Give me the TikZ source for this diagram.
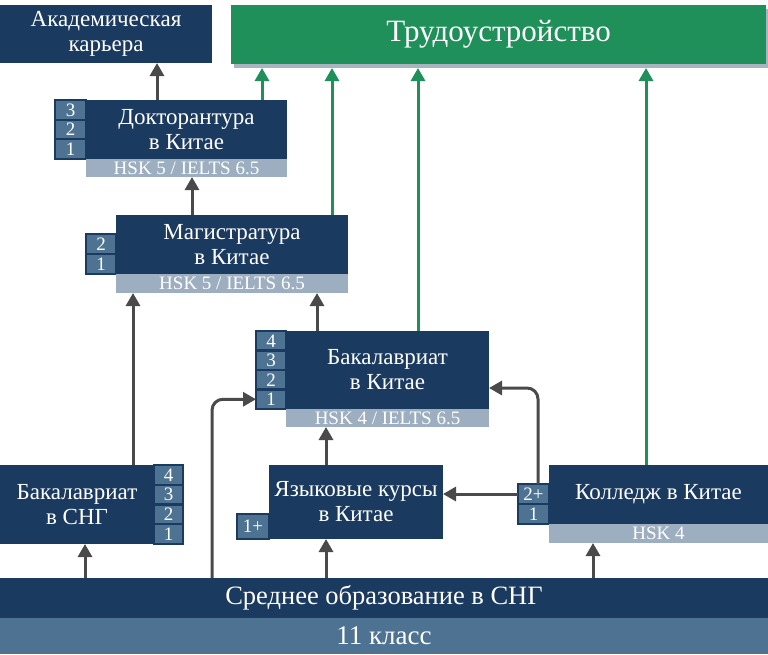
\documentclass[tikz,border=0pt]{standalone}
\usepackage{fontspec}
\setmainfont{Liberation Serif}
\usetikzlibrary{arrows.meta}
\definecolor{dblue}{HTML}{1B3A60}
\definecolor{cellc}{HTML}{4E7291}
\definecolor{barc}{HTML}{9CAEC0}
\definecolor{botc}{HTML}{4E7291}
\definecolor{gcol}{HTML}{20905A}
\definecolor{agray}{HTML}{4A4A4A}
\definecolor{shadowc}{HTML}{A8B4C0}
\tikzset{
  box/.style={rectangle, fill=dblue, text=white, inner sep=0pt, outer sep=0pt, anchor=north west, align=center, font=\rmfamily\fontsize{23}{25}\selectfont},
  cell/.style={rectangle, fill=cellc, draw=dblue, line width=2.2pt, text=white, inner sep=0pt, outer sep=0pt, anchor=north west, font=\rmfamily\fontsize{19}{19}\selectfont},
  hsk/.style={rectangle, fill=barc, text=white, inner sep=0pt, outer sep=0pt, anchor=north west, font=\rmfamily\fontsize{19}{19}\selectfont},
  arr/.style={line width=3pt, draw=agray, -{Triangle[length=13pt,width=14pt]}},
  garr/.style={line width=3pt, draw=gcol, -{Triangle[length=13pt,width=14pt]}}
}
\begin{document}
\begin{tikzpicture}[x=1pt,y=-1pt]
\useasboundingbox (0,0) rectangle (768,654);
% top boxes
\node[box, minimum width=212pt, minimum height=58pt] (acad) at (0,5) {Академическая\\карьера};
\node[rectangle, fill=shadowc, inner sep=0pt, outer sep=0pt, anchor=north west, minimum width=534pt, minimum height=59pt] (shadow) at (234,9) {};
\node[box, fill=gcol, minimum width=535pt, minimum height=59pt, font=\rmfamily\fontsize{31}{33}\selectfont] (emp) at (231,5) {Трудоустройство};
% doctorate
\node[box, minimum width=201pt, minimum height=59pt] (doc) at (86,100) {Докторантура\\в Китае};
\node[cell, minimum width=31pt, minimum height=19.67pt] (doc3) at (55,100) {3};
\node[cell, minimum width=31pt, minimum height=19.67pt] (doc2) at (55,119.67) {2};
\node[cell, minimum width=31pt, minimum height=19.67pt] (doc1) at (55,139.33) {1};
\node[hsk, minimum width=201pt, minimum height=18pt] (dochsk) at (86,159) {HSK 5 / IELTS 6.5};
% master
\node[box, minimum width=232pt, minimum height=59pt] (mag) at (116,215) {Магистратура\\в Китае};
\node[cell, minimum width=30pt, minimum height=20pt] (mag2) at (86,234) {2};
\node[cell, minimum width=30pt, minimum height=20pt] (mag1) at (86,254) {1};
\node[hsk, minimum width=232pt, minimum height=19pt] (maghsk) at (116,274) {HSK 5 / IELTS 6.5};
% bachelor china
\node[box, minimum width=203pt, minimum height=78pt] (bach) at (286,331) {Бакалавриат\\в Китае};
\node[cell, minimum width=30pt, minimum height=19.5pt] (bc4) at (256,331) {4};
\node[cell, minimum width=30pt, minimum height=19.5pt] (bc3) at (256,350.5) {3};
\node[cell, minimum width=30pt, minimum height=19.5pt] (bc2) at (256,370) {2};
\node[cell, minimum width=30pt, minimum height=19.5pt] (bc1) at (256,389.5) {1};
\node[hsk, minimum width=203pt, minimum height=18pt] (bachhsk) at (286,409) {HSK 4 / IELTS 6.5};
% bachelor CIS
\node[box, minimum width=154pt, minimum height=79pt] (cis) at (0,465) {Бакалавриат\\в СНГ};
\node[cell, minimum width=29pt, minimum height=19.75pt] (cis4) at (154,465) {4};
\node[cell, minimum width=29pt, minimum height=19.75pt] (cis3) at (154,484.75) {3};
\node[cell, minimum width=29pt, minimum height=19.75pt] (cis2) at (154,504.5) {2};
\node[cell, minimum width=29pt, minimum height=19.75pt] (cis1) at (154,524.25) {1};
% language courses
\node[box, minimum width=174pt, minimum height=74pt] (lang) at (269,465) {Языковые курсы\\в Китае};
\node[cell, minimum width=32pt, minimum height=25pt] (lang1) at (237,514) {1+};
% college
\node[box, minimum width=219pt, minimum height=59pt] (col) at (549,465) {Колледж в Китае};
\node[cell, minimum width=31pt, minimum height=20pt] (cb2) at (518,484) {2+};
\node[cell, minimum width=31pt, minimum height=20pt] (cb1) at (518,504) {1};
\node[hsk, minimum width=219pt, minimum height=19pt] (colhsk) at (549,524) {HSK 4};
% bottom
\node[box, minimum width=768pt, minimum height=40pt, font=\rmfamily\fontsize{26.5}{28}\selectfont] (sec) at (0,578) {Среднее образование в СНГ};
\node[box, fill=botc, minimum width=768pt, minimum height=36pt, font=\rmfamily\fontsize{27}{28}\selectfont] (eleven) at (0,618) {11 класс};
% dark arrows
\draw[arr] ([xshift=71pt]doc.north west) -- ([xshift=71pt]doc.north west |- acad.south);
\draw[arr] ([xshift=76pt]mag.north west) -- ([xshift=76pt]mag.north west |- dochsk.south);
\draw[arr] ([xshift=133pt]cis.north west) -- ([xshift=133pt]cis.north west |- maghsk.south);
\draw[arr] ([xshift=31pt]bach.north west) -- ([xshift=31pt]bach.north west |- maghsk.south);
\draw[arr] ([xshift=57pt]lang.north west) -- ([xshift=57pt]lang.north west |- bachhsk.south);
\draw[arr] ([xshift=85pt]sec.north west) -- ([xshift=85pt]sec.north west |- cis.south);
\draw[arr, rounded corners=11pt] ([xshift=212pt]sec.north west) |- (bc1.west);
\draw[arr] ([xshift=326pt]sec.north west) -- ([xshift=326pt]sec.north west |- lang.south);
\draw[arr] ([xshift=593pt]sec.north west) -- ([xshift=593pt]sec.north west |- colhsk.south);
\draw[arr] (cb2.west) -- (cb2.west -| lang.east);
\draw[arr, rounded corners=11pt] ([xshift=4.5pt]cb2.north) |- ([yshift=-18pt]bach.east);
% green arrows
\draw[garr] ([xshift=176pt]doc.north west) -- ([xshift=176pt]doc.north west |- shadow.south);
\draw[garr] ([xshift=216pt]mag.north west) -- ([xshift=216pt]mag.north west |- shadow.south);
\draw[garr] ([xshift=132pt]bach.north west) -- ([xshift=132pt]bach.north west |- shadow.south);
\draw[garr] ([xshift=97pt]col.north west) -- ([xshift=97pt]col.north west |- shadow.south);
\end{tikzpicture}
\end{document}
